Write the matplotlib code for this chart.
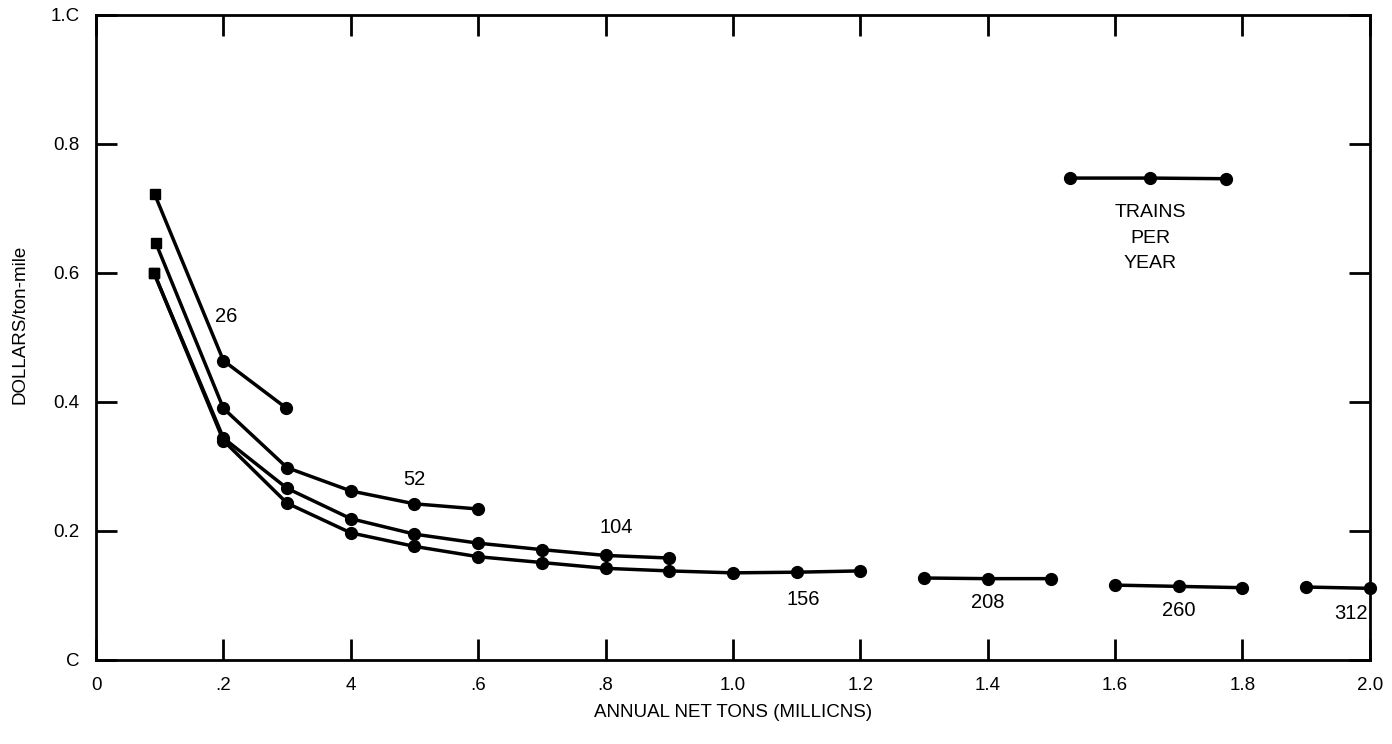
import matplotlib
matplotlib.use("Agg")
import matplotlib.pyplot as plt

plt.rcParams['font.family'] = ['Liberation Sans', 'DejaVu Sans']

# trains per year -> (annual net tons in millions, dollars/ton-mile)
x_26 = [0.092, 0.2, 0.298]
y_26 = [0.722, 0.464, 0.391]

x_52 = [0.094, 0.2, 0.3, 0.4, 0.5, 0.6]
y_52 = [0.646, 0.390, 0.298, 0.262, 0.242, 0.234]

x_104 = [0.091, 0.2, 0.3, 0.4, 0.5, 0.6, 0.7, 0.8, 0.9]
y_104 = [0.600, 0.344, 0.266, 0.219, 0.195, 0.181, 0.171, 0.162, 0.158]

x_156 = [0.091, 0.2, 0.3, 0.4, 0.5, 0.6, 0.7, 0.8, 0.9, 1.0, 1.1, 1.2]
y_156 = [0.600, 0.340, 0.243, 0.197, 0.176, 0.160, 0.151, 0.142, 0.138, 0.135, 0.136, 0.138]

x_208 = [1.3, 1.4, 1.5]
y_208 = [0.127, 0.126, 0.126]

x_260 = [1.6, 1.7, 1.8]
y_260 = [0.116, 0.114, 0.112]

x_312 = [1.9, 2.0]
y_312 = [0.113, 0.111]

key_x = [1.53, 1.655, 1.775]
key_y = [0.747, 0.747, 0.746]

curve_labels = ["26", "52", "104", "156", "208", "260", "312"]
label_x = [0.205, 0.5, 0.817, 1.11, 1.4, 1.7, 1.97]
label_y = [0.532, 0.279, 0.206, 0.094, 0.089, 0.077, 0.072]

x_ticks = [0, 0.2, 0.4, 0.6, 0.8, 1.0, 1.2, 1.4, 1.6, 1.8, 2.0]
x_tick_labels = ["0", ".2", "4", ".6", ".8", "1.0", "1.2", "1.4", "1.6", "1.8", "2.0"]
y_ticks = [0, 0.2, 0.4, 0.6, 0.8, 1.0]
y_tick_labels = ["C", "0.2", "0.4", "0.6", "0.8", "1.C"]


fig = plt.figure(figsize=(13.92, 7.44), dpi=100)
ax = fig.add_axes([0.069, 0.113, 0.915, 0.867])

series = [(x_26, y_26), (x_52, y_52), (x_104, y_104), (x_156, y_156),
          (x_208, y_208), (x_260, y_260), (x_312, y_312)]
for i, (xs, ys) in enumerate(series):
    ax.plot(xs, ys, '-', color='black', lw=2.5, zorder=2)
    if i < 4:
        # first point of the low-tonnage curves is a square
        ax.plot(xs[:1], ys[:1], 's', color='black', ms=7.5, zorder=3)
        ax.plot(xs[1:], ys[1:], 'o', color='black', ms=8.5, zorder=3)
    else:
        ax.plot(xs, ys, 'o', color='black', ms=8.5, zorder=3, clip_on=False)

ax.plot(key_x, key_y, 'o-', color='black', lw=2.5, ms=8.5)
ax.text(1.655, 0.694, "TRAINS", ha='center', va='center', fontsize=14)
ax.text(1.655, 0.653, "PER", ha='center', va='center', fontsize=14)
ax.text(1.655, 0.614, "YEAR", ha='center', va='center', fontsize=14)

for lab, lx, ly in zip(curve_labels, label_x, label_y):
    ax.text(lx, ly, lab, ha='center', va='center', fontsize=14.5)

ax.set_xlim(0, 2.0)
ax.set_ylim(0, 1.0)
ax.set_xticks(x_ticks)
ax.set_xticklabels(x_tick_labels)
ax.set_yticks(y_ticks)
ax.set_yticklabels(y_tick_labels)
ax.tick_params(direction='in', length=15, width=2, top=True, right=True,
               labelsize=13.5, pad=12)
for side in ax.spines.values():
    side.set_linewidth(2)

ax.set_xlabel("ANNUAL NET TONS (MILLICNS)", fontsize=13.5)
ax.xaxis.set_label_coords(0.5, -0.068)
ax.set_ylabel("DOLLARS/ton-mile", fontsize=13.5)
ax.yaxis.set_label_coords(-0.053, 0.52)

plt.savefig("out.png", dpi=100)
